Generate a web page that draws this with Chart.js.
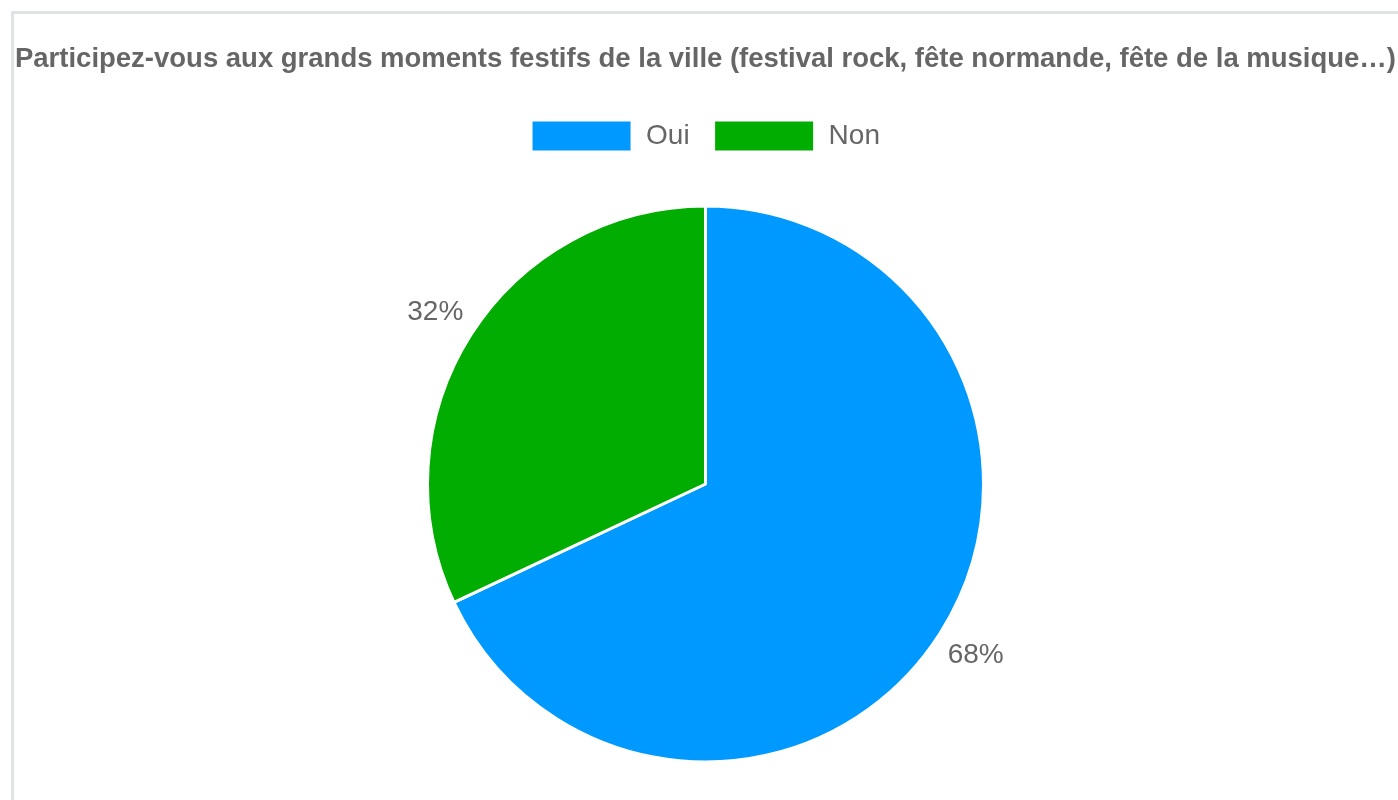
<!DOCTYPE html>
<html>
<head>
<meta charset="utf-8">
<script src="https://cdn.jsdelivr.net/npm/chart.js@4.4.0/dist/chart.umd.min.js"></script>
<style>
  html, body { margin: 0; padding: 0; background: #fff; overflow: hidden; }
  .frame {
    position: absolute; left: 11px; top: 11px; width: 1500px; height: 900px;
    border-left: 3px solid #dfe3e5; border-top: 3px solid #dfe3e5;
  }
  #chart { position: absolute; left: 0; top: 0; }
</style>
</head>
<body>
<div class="frame"></div>
<canvas id="chart" width="1398" height="850"></canvas>
<script>
const titleText = 'Participez-vous aux grands moments festifs de la ville (festival rock, fête normande, fête de la musique…)'
const categories = ['Oui', 'Non']
const percents = [68, 32]
const colors = ['#0099ff', '#00ad00']

// draws "68%" etc outside each slice
const outsideLabels = {
    id: 'outsideLabels',
    afterDatasetsDraw(chart) {
        const ctx = chart.ctx
        const meta = chart.getDatasetMeta(0)
        ctx.save()
        ctx.font = '28px "Liberation Sans", Arial, sans-serif'
        ctx.fillStyle = '#666'
        ctx.textAlign = 'center'
        ctx.textBaseline = 'middle'
        meta.data.forEach((arc, i) => {
            const p = arc.getProps(['x', 'y', 'startAngle', 'endAngle', 'outerRadius'], true)
            const mid = (p.startAngle + p.endAngle) / 2
            const r = p.outerRadius + 42
            ctx.fillText(percents[i] + '%', p.x + Math.cos(mid) * r, p.y + Math.sin(mid) * r)
        })
        ctx.restore()
    }
}

new Chart(document.getElementById('chart'), {
    type: 'pie',
    data: {
        labels: categories,
        datasets: [{
            data: percents,
            backgroundColor: colors,
            borderColor: '#fff',
            borderWidth: 3,
            radius: 278
        }]
    },
    options: {
        responsive: false,
        animation: false,
        layout: { padding: { left: 15, right: 2, top: 0, bottom: 44 } },
        plugins: {
            title: {
                display: true,
                text: titleText,
                align: 'start',
                color: '#666',
                font: { family: '"Liberation Sans", Arial, sans-serif', size: 27.5, weight: 'bold' },
                padding: { top: 43, bottom: 20 }
            },
            legend: {
                position: 'top',
                labels: {
                    boxWidth: 101,
                    boxHeight: 32,
                    padding: 24,
                    color: '#666',
                    font: { family: '"Liberation Sans", Arial, sans-serif', size: 28 }
                }
            },
            tooltip: { enabled: false }
        }
    },
    plugins: [outsideLabels]
})
</script>
</body>
</html>
